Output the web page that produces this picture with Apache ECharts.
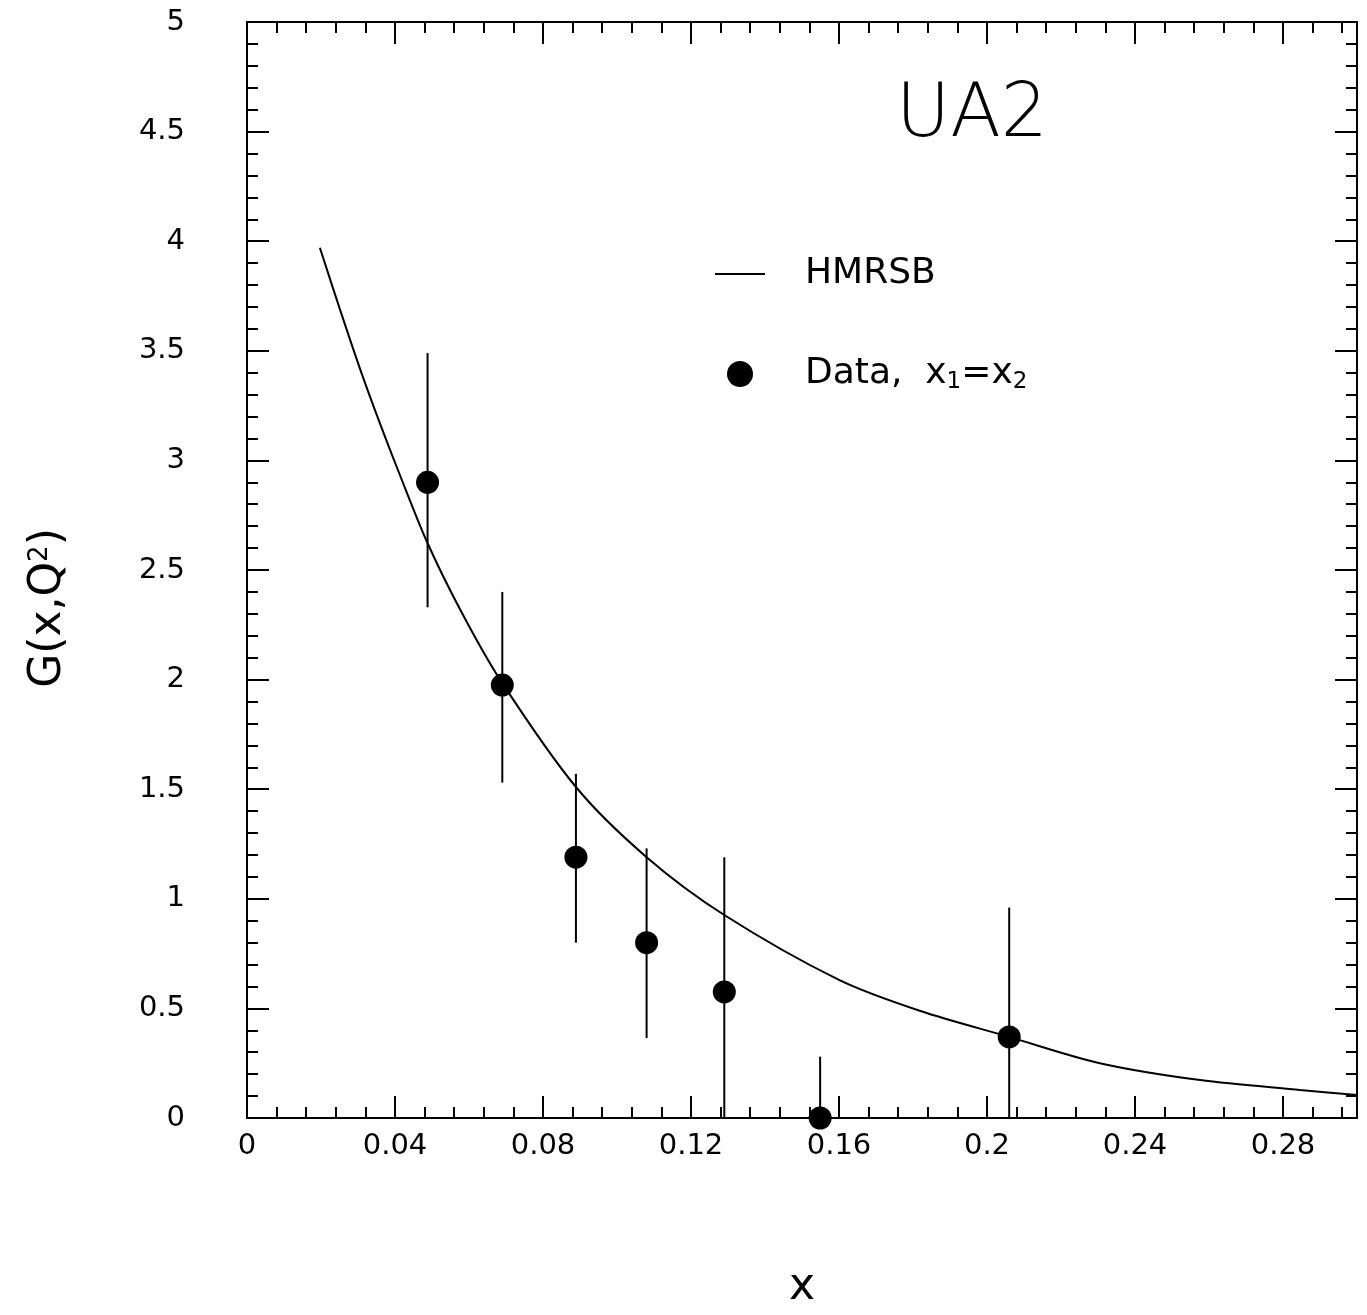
<!DOCTYPE html>
<html>
<head>
<meta charset="utf-8">
<script src="https://cdn.jsdelivr.net/npm/echarts@6/dist/echarts.min.js"></script>
<style>
html,body{margin:0;padding:0;background:#fff;}
#g_canvas{width:1367px;height:1315px;}
</style>
</head>
<body>
<div id="g_canvas"></div>
<script>
// HMRSB curve
var curve_x = [0.0197, 0.0251, 0.0305, 0.0359, 0.0414, 0.0486, 0.0576, 0.0684, 0.0889, 0.108, 0.129, 0.16, 0.182, 0.206, 0.2305, 0.2576, 0.2846, 0.3];
var curve_y = [3.97, 3.69, 3.42, 3.17, 2.93, 2.63, 2.32, 2.0, 1.51, 1.19, 0.926, 0.63, 0.488, 0.37, 0.25, 0.173, 0.128, 0.105];

// data points, x1=x2
var data_x = [0.0488, 0.069, 0.0889, 0.108, 0.129, 0.1549, 0.206];
var data_y = [2.90, 1.975, 1.19, 0.80, 0.575, 0.0, 0.37];
var err_lo = [2.33, 1.53, 0.80, 0.365, 0.0, 0.0, 0.0];
var err_hi = [3.49, 2.40, 1.57, 1.23, 1.19, 0.28, 0.96];

var font = 'DejaVu Sans';

var curveData = [];
for (var i = 0; i < curve_x.length; i++) {
	curveData.push([curve_x[i], curve_y[i]]);
}
var pointData = [];
var errData = [];
for (var i = 0; i < data_x.length; i++) {
	pointData.push([data_x[i], data_y[i]]);
	errData.push([data_x[i], err_lo[i], err_hi[i]]);
}

function xAxisOf(pos, step, tickLen, labels) {
	return {
		type: 'value',
		position: pos,
		min: 0,
		max: 0.3,
		interval: step,
		axisLine: {show: labels, onZero: false, lineStyle: {color: '#000', width: 2}},
		axisTick: {inside: true, length: tickLen, lineStyle: {color: '#000', width: 2}},
		axisLabel: {
			show: labels && pos == 'bottom',
			showMaxLabel: false,
			margin: 14,
			color: '#000',
			fontFamily: font,
			fontSize: 29
		},
		splitLine: {show: false}
	};
}

function yAxisOf(pos) {
	return {
		type: 'value',
		position: pos,
		min: 0,
		max: 5,
		interval: 0.5,
		axisLine: {show: true, onZero: false, lineStyle: {color: '#000', width: 2}},
		axisTick: {inside: true, length: 22, lineStyle: {color: '#000', width: 2}},
		minorTick: {show: true, splitNumber: 5, length: 11, lineStyle: {color: '#000', width: 2}},
		axisLabel: {
			show: pos == 'left',
			margin: 62,
			color: '#000',
			fontFamily: font,
			fontSize: 29
		},
		splitLine: {show: false}
	};
}

var xMain = xAxisOf('bottom', 0.04, 22, true);
xMain.name = 'x';
xMain.nameLocation = 'middle';
xMain.nameGap = 148;
xMain.nameTextStyle = {color: '#000', fontFamily: font, fontSize: 44};

var yMain = yAxisOf('left');
yMain.name = 'G(x,Q{sup|2})';
yMain.nameLocation = 'middle';
yMain.nameGap = 176;
yMain.nameTextStyle = {
	color: '#000', fontFamily: font, fontSize: 44, padding: [0, 76, 0, 0],
	rich: {sup: {fontFamily: font, fontSize: 26, color: '#000', verticalAlign: 'top', padding: [0, 0, 18, 0]}}
};

option = {
	backgroundColor: '#fff',
	animation: false,
	grid: {
		left: 247,
		right: 10,
		top: 22,
		bottom: 197
	},
	title: {
		text: 'UA2',
		left: 896,
		top: 80,
		padding: 0,
		textStyle: {color: '#000', fontFamily: font, fontSize: 74, fontWeight: 200}
	},
	legend: {
		orient: 'vertical',
		left: 715,
		top: 256,
		padding: 0,
		itemWidth: 50,
		itemHeight: 26,
		itemGap: 64,
		data: [
			{name: 'HMRSB', icon: 'path://M0,0 L50,0 L50,2 L0,2 Z'},
			{name: 'Data', icon: 'circle'}
		],
		formatter: function(name) {
			if (name == 'Data') {
				return '{a|Data,  x}{s|1}{a|=x}{s|2}';
			}
			return '{a|' + name + '}';
		},
		textStyle: {
			color: '#000',
			fontFamily: font,
			fontSize: 36,
			padding: [0, 0, 0, 35],
			rich: {
				a: {fontFamily: font, fontSize: 36, color: '#000'},
				s: {fontFamily: font, fontSize: 23, color: '#000', verticalAlign: 'bottom', padding: [16, 0, 0, 0]}
			}
		}
	},
	xAxis: [
		xMain,
		xAxisOf('bottom', 0.008, 11, false),
		xAxisOf('top', 0.04, 22, true),
		xAxisOf('top', 0.008, 11, false)
	],
	yAxis: [yMain, yAxisOf('right')],
	series: [{
		name: 'HMRSB',
		type: 'line',
		smooth: 0.3,
		showSymbol: false,
		symbol: 'none',
		data: curveData,
		lineStyle: {color: '#000', width: 2},
		itemStyle: {color: '#000'}
	}, {
		name: 'err',
		type: 'custom',
		data: errData,
		renderItem: function(params, api) {
			var p1 = api.coord([api.value(0), api.value(1)]);
			var p2 = api.coord([api.value(0), api.value(2)]);
			return {
				type: 'line',
				shape: {x1: p1[0], y1: p1[1], x2: p2[0], y2: p2[1]},
				style: {stroke: '#000', lineWidth: 2}
			};
		},
		z: 3
	}, {
		name: 'Data',
		type: 'scatter',
		symbol: 'circle',
		symbolSize: 23,
		data: pointData,
		itemStyle: {color: '#000', opacity: 1},
		z: 4
	}]
};
var myChart = echarts.init(document.getElementById('g_canvas'));
myChart.setOption(option);
</script>
</body>
</html>
